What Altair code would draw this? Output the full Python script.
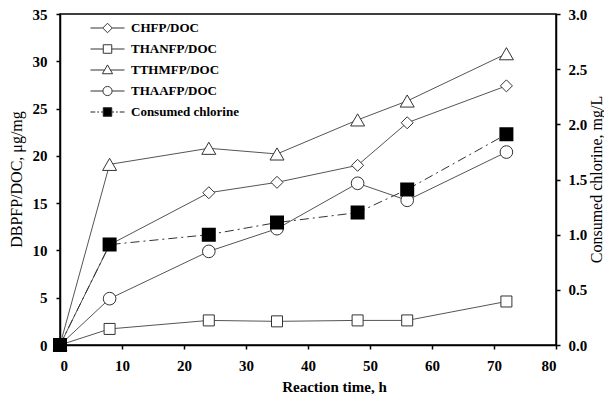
import altair as alt
import pandas as pd

# ---- data ----
hours = [0, 8, 24, 35, 48, 56, 72]
chfp = [0, 10.6, 16.1, 17.2, 19.0, 23.5, 27.4]
thanfp = [0, 1.7, 2.6, 2.5, 2.6, 2.6, 4.6]
tthmfp = [0, 19.1, 20.8, 20.2, 23.8, 25.8, 30.8]
thaafp = [0, 4.9, 9.9, 12.3, 17.1, 15.3, 20.4]
chlorine = [0, 0.91, 1.0, 1.11, 1.2, 1.41, 1.91]

series_names = ["CHFP/DOC", "THANFP/DOC", "TTHMFP/DOC", "THAAFP/DOC", "Consumed chlorine"]
dbp_values = [chfp, thanfp, tthmfp, thaafp]

x_ticks = [0, 10, 20, 30, 40, 50, 60, 70, 80]
y_left_ticks = [0, 5, 10, 15, 20, 25, 30, 35]
y_right_ticks = [0, 0.5, 1.0, 1.5, 2.0, 2.5, 3.0]

rows = []
for name, vals in zip(series_names[:4], dbp_values):
    for h, v in zip(hours, vals):
        rows.append({"hours": h, "series": name, "value": v})
dbp = pd.DataFrame(rows)
cl = pd.DataFrame({"hours": hours, "chlorine": chlorine})

FONT = "Liberation Serif"

x_enc = alt.X(
    "hours:Q",
    scale=alt.Scale(domain=[0, 80], nice=False),
    axis=alt.Axis(values=x_ticks, title="Reaction time, h", labelPadding=9,
                  titleFontWeight="bold", titleFontSize=15,
                  titleX=274, titleY=41, titleBaseline="middle"),
)
y_left = alt.Y(
    "value:Q",
    scale=alt.Scale(domain=[0, 35], nice=False),
    axis=alt.Axis(values=y_left_ticks, title="DBPFP/DOC, μg/mg", labelPadding=9,
                  titleFontWeight="normal", titleFontSize=16,
                  titleX=-44, titleY=165, titleBaseline="middle", titleAngle=270),
)
y_right = alt.Y(
    "chlorine:Q",
    scale=alt.Scale(domain=[0, 3], nice=False),
    axis=alt.Axis(orient="right", values=y_right_ticks, format=".1f",
                  title="Consumed chlorine, mg/L", labelPadding=8,
                  titleFontWeight="normal", titleFontSize=16,
                  titleX=40, titleY=165, titleBaseline="middle", titleAngle=270),
)

base = alt.Chart(dbp)

lines = base.mark_line(color="#555555", strokeWidth=1).encode(
    x=x_enc, y=y_left, detail="series:N", order="hours:Q"
)

markers = {
    "CHFP/DOC": ("diamond", 144),
    "THANFP/DOC": ("square", 121),
    "TTHMFP/DOC": ("triangle-up", 196),
    "THAAFP/DOC": ("circle", 160),
}
point_layers = []
for name in series_names[:4]:
    shp, sz = markers[name]
    point_layers.append(
        base.transform_filter(alt.datum.series == name)
        .mark_point(shape=shp, size=sz, filled=True, fill="white",
                    stroke="#333333", strokeWidth=1, opacity=1)
        .encode(x=x_enc, y=y_left)
    )

legend_paths = [
    "M-1,0H-0.28M0.28,0H1M-0.28,0L0,-0.28L0.28,0L0,0.28Z",
    "M-1,0H-0.25M0.25,0H1M-0.25,-0.25H0.25V0.25H-0.25Z",
    "M-1,0H-0.17M0.17,0H1M-0.3,0.22L0,-0.3L0.3,0.22Z",
    "M-1,0H-0.27M0.27,0H1M-0.27,0A0.27,0.27,0,1,0,0.27,0A0.27,0.27,0,1,0,-0.27,0Z",
    "M-1,0H-0.72M-0.6,0H-0.5M-0.38,0H-0.27M0.27,0H0.38M0.5,0H0.6M0.72,0H1M-0.25,-0.25H0.25V0.25H-0.25Z",
]
legend_fills = ["white", "white", "white", "white", "black"]
legend_strokes = ["#333333", "#333333", "#333333", "#333333", "#222222"]

leg_spec = dict(
    orient="none", legendX=30, legendY=6, title=None,
    symbolSize=1156, clipHeight=16, rowPadding=5, labelOffset=6, symbolOffset=0,
    symbolOpacity=1, symbolStrokeWidth=1,
    labelFont=FONT, labelFontSize=13, labelFontWeight="bold", labelColor="black",
    labelLimit=300, padding=0,
)

legend_layer = base.mark_point(opacity=0, filled=True, strokeWidth=1).encode(
    x=x_enc, y=y_left,
    shape=alt.Shape("series:N", scale=alt.Scale(domain=series_names, range=legend_paths),
                    legend=alt.Legend(**leg_spec)),
    fill=alt.Fill("series:N", scale=alt.Scale(domain=series_names, range=legend_fills),
                  legend=alt.Legend(**leg_spec)),
    stroke=alt.Stroke("series:N", scale=alt.Scale(domain=series_names, range=legend_strokes),
                      legend=alt.Legend(**leg_spec)),
)

cl_line = alt.Chart(cl).mark_line(color="#333333", strokeWidth=1, strokeDash=[9, 4, 2, 4]).encode(
    x=x_enc, y=y_right
)
cl_pts = alt.Chart(cl).mark_point(shape="square", size=144, filled=True, fill="black",
                                  stroke="black", opacity=1).encode(x=x_enc, y=y_right)

left = alt.layer(lines, *point_layers, legend_layer)
right = alt.layer(cl_line, cl_pts)

chart = (
    alt.layer(left, right)
    .resolve_scale(y="independent")
    .properties(
        width=496, height=331,
        padding={"left": 52, "top": 6, "right": 48, "bottom": 49},
        autosize=alt.AutoSizeParams(type="none"),
    )
    .configure_view(stroke="black", strokeWidth=1.5)
    .configure_axis(
        grid=False, domainColor="black", domainWidth=1.5, tickColor="black",
        tickWidth=1.5, tickSize=4, labelFont=FONT, labelFontSize=15,
        labelFontWeight="bold", labelColor="black", titleFont=FONT, titleColor="black",
    )
)

chart.save("out.html", embed_options={"renderer": "svg", "actions": False})
